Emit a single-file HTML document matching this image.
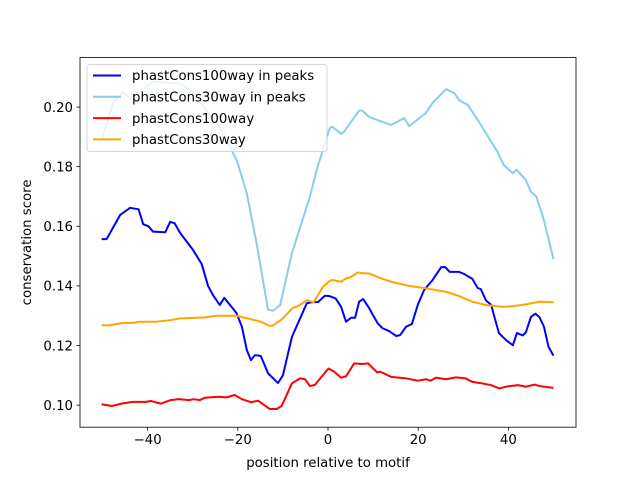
<!DOCTYPE html>
<html><head><meta charset="utf-8"><style>
body{margin:0;background:#fff;}
svg{display:block;font-family:"DejaVu Sans","Liberation Sans",sans-serif;}
</style></head><body>
<svg id="chart" width="640" height="480">
<rect width="640" height="480" fill="#fff"/>
<g id="plot"></g>
<g id="axes"></g>
</svg>
<script>
const xTicks=[-40,-20,0,20,40];
const yTicks=[0.10,0.12,0.14,0.16,0.18,0.20];
const yTickLabels=["0.10","0.12","0.14","0.16","0.18","0.20"];
const seriesNames=["phastCons100way in peaks","phastCons30way in peaks","phastCons100way","phastCons30way"];
const seriesColors=["#0000ff","#87ceeb","#ff0000","#ffa500"];
const blueX=[-50.2,-49.1,-46.1,-43.9,-42,-41,-39.8,-38.8,-36.1,-35,-34,-32.8,-29.9,-28,-26.6,-25.5,-24,-23,-20.3,-19.1,-18,-17.1,-16.2,-14.9,-13.3,-11.1,-10,-8,-4.7,-3.7,-2.2,-0.7,0.3,1.7,2.9,4,5.1,6,6.9,7.8,9.1,11,12.1,13.5,15.1,16,17.3,18.6,19.9,21.3,23.2,25.1,26,27,29.1,30.2,31.3,32,33.2,33.9,35,36.2,36.8,37.9,39.5,41,41.9,43.2,43.9,45,46,46.9,47.9,48.9,50];
const blueY=[0.1557,0.1557,0.1638,0.1662,0.1657,0.1607,0.160,0.1582,0.158,0.1615,0.161,0.1578,0.152,0.1473,0.140,0.1369,0.1336,0.136,0.1309,0.1263,0.1185,0.1151,0.1168,0.1165,0.1107,0.1074,0.110,0.1229,0.1342,0.1345,0.1346,0.1367,0.1366,0.1358,0.133,0.128,0.1293,0.1293,0.1347,0.1356,0.1326,0.1275,0.1258,0.1249,0.1232,0.1235,0.1263,0.1272,0.1336,0.1386,0.142,0.1463,0.1463,0.1447,0.1447,0.144,0.143,0.1424,0.1393,0.1389,0.1352,0.1336,0.1302,0.1242,0.1218,0.1201,0.1242,0.1234,0.1245,0.1296,0.1307,0.1295,0.1263,0.1196,0.1166];
const cyanX=[-50.3,-47.7,-45.5,-43.9,-38.8,-32.8,-29.9,-23.9,-20.2,-18,-15.8,-13.3,-12.2,-10.6,-8,-4,-2.5,0.4,1,2.9,3.6,5.1,6.9,7.6,9.1,14,16.9,18,21.7,23.2,26.2,28,29.1,31,33.5,35.7,37.6,39,41,41.8,43.9,45,46.2,47.9,50];
const cyanY=[0.1884,0.2013,0.205,0.203,0.2085,0.208,0.2047,0.193,0.182,0.171,0.154,0.132,0.1317,0.1336,0.151,0.170,0.179,0.193,0.1934,0.191,0.1918,0.195,0.1988,0.1988,0.1967,0.194,0.1963,0.1936,0.198,0.2014,0.206,0.2047,0.2023,0.2007,0.195,0.1896,0.185,0.1805,0.1778,0.179,0.1755,0.1716,0.170,0.162,0.149];
const redX=[-50.2,-48,-45.5,-43.3,-40.4,-39.3,-37.1,-34.9,-33.1,-30.9,-29.8,-28.4,-27.3,-24.3,-22.5,-20.7,-19.1,-17,-15.5,-12.9,-11.4,-10.3,-8,-6.2,-5.1,-4,-2.9,0.1,1.4,2.9,4,5.8,7.6,8.9,10.9,11.6,14,17.3,19.9,21.7,22.8,23.9,26.2,28.4,30.5,32,34.2,36.2,38,39.5,42.1,43.9,45.8,46.9,50];
const redY=[0.1003,0.0997,0.1006,0.1011,0.1011,0.1014,0.1005,0.1017,0.102,0.1017,0.102,0.1017,0.1025,0.1028,0.1026,0.1034,0.102,0.101,0.1015,0.0987,0.0987,0.0997,0.1073,0.109,0.1087,0.1064,0.1068,0.1123,0.1112,0.1092,0.1097,0.114,0.1138,0.114,0.111,0.1112,0.1095,0.109,0.1082,0.1087,0.1082,0.1092,0.1087,0.1093,0.109,0.1078,0.1073,0.1067,0.1056,0.1062,0.1067,0.1062,0.1069,0.1064,0.1058];
const orangeX=[-50.2,-48.4,-45.5,-43.3,-41.8,-38.1,-35,-32.8,-27.6,-24.6,-20.3,-17.3,-14.9,-13,-12.2,-10,-8,-6.2,-4.7,-3.2,-2.2,-1.1,0.4,1,2.9,4,5.1,6.6,8.1,9.1,11.3,14,18,21.7,26.2,29.1,32,35,38.7,40.9,43.9,46.9,50];
const orangeY=[0.1268,0.1268,0.1276,0.1276,0.128,0.128,0.1285,0.1291,0.1294,0.130,0.130,0.1289,0.128,0.1266,0.1267,0.1291,0.1324,0.1336,0.1352,0.1345,0.1369,0.1397,0.1417,0.142,0.1414,0.1425,0.143,0.1445,0.1442,0.1442,0.1428,0.1414,0.140,0.1392,0.138,0.1366,0.1347,0.1336,0.133,0.1332,0.1338,0.1347,0.1345];

const L=80,R=576,T=57.6,B=427.2;
const xMin=-55,xMax=55,yMin=0.0926,yMax=0.2166;
const sx=v=>L+(v-xMin)/(xMax-xMin)*(R-L);
const sy=v=>B-(v-yMin)/(yMax-yMin)*(B-T);
const NS="http://www.w3.org/2000/svg";
const plot=document.getElementById('plot'),axes=document.getElementById('axes');
function mk(tag,attrs,parent){const e=document.createElementNS(NS,tag);for(const k in attrs)e.setAttribute(k,attrs[k]);parent.appendChild(e);return e;}

const allX=[blueX,cyanX,redX,orangeX],allY=[blueY,cyanY,redY,orangeY];
const lineNames=['line-phastcons100way-peaks','line-phastcons30way-peaks','line-phastcons100way','line-phastcons30way'];
for(let s=0;s<4;s++){
  const d=allX[s].map((x,i)=>(i?'L':'M')+sx(x).toFixed(2)+','+sy(allY[s][i]).toFixed(2)).join(' ');
  const p=mk('path',{d:d,fill:'none',stroke:seriesColors[s],'stroke-width':2,'stroke-linejoin':'round'},plot);
  
  
}
const fr=mk('rect',{x:L,y:T,width:R-L,height:B-T,fill:'none',stroke:'#000','stroke-width':0.8},axes);


xTicks.forEach(t=>{
  const x=sx(t);
  mk('line',{x1:x,x2:x,y1:B,y2:B+3.5,stroke:'#000','stroke-width':0.8},axes);
  const tx=mk('text',{x:x,y:B+17,'text-anchor':'middle','font-size':'13.3px',fill:'#000'},axes);
  tx.textContent=(t<0?'\u2212'+(-t):String(t));
  
  
});
yTicks.forEach((t,i)=>{
  const y=sy(t);
  mk('line',{x1:L-3.5,x2:L,y1:y,y2:y,stroke:'#000','stroke-width':0.8},axes);
  const tx=mk('text',{x:L-7,y:y+4.8,'text-anchor':'end','font-size':'13.3px',fill:'#000'},axes);
  tx.textContent=yTickLabels[i];
  
  
});
const xl=mk('text',{x:(L+R)/2,y:467,'text-anchor':'middle','font-size':'13.3px',fill:'#000'},axes);
xl.textContent='position relative to motif';


const yl=mk('text',{x:0,y:0,'text-anchor':'middle','font-size':'13.3px',fill:'#000',transform:'translate(31,'+((T+B)/2)+') rotate(-90)'},axes);
yl.textContent='conservation score';


const lg=mk('g',{},axes);


mk('rect',{x:87,y:64.5,width:240,height:87,rx:3,fill:'rgba(255,255,255,0.8)',stroke:'#ccc','stroke-width':0.8},lg);
seriesNames.forEach((n,i)=>{
  const y=75.5+i*21.3;
  const g=mk('g',{},lg);
  
  
  mk('line',{x1:93,x2:121,y1:y,y2:y,stroke:seriesColors[i],'stroke-width':2},g);
  const t=mk('text',{x:132,y:y+4.7,'font-size':'13.3px',fill:'#000'},g);
  t.textContent=n;
});
</script>
</body></html>
